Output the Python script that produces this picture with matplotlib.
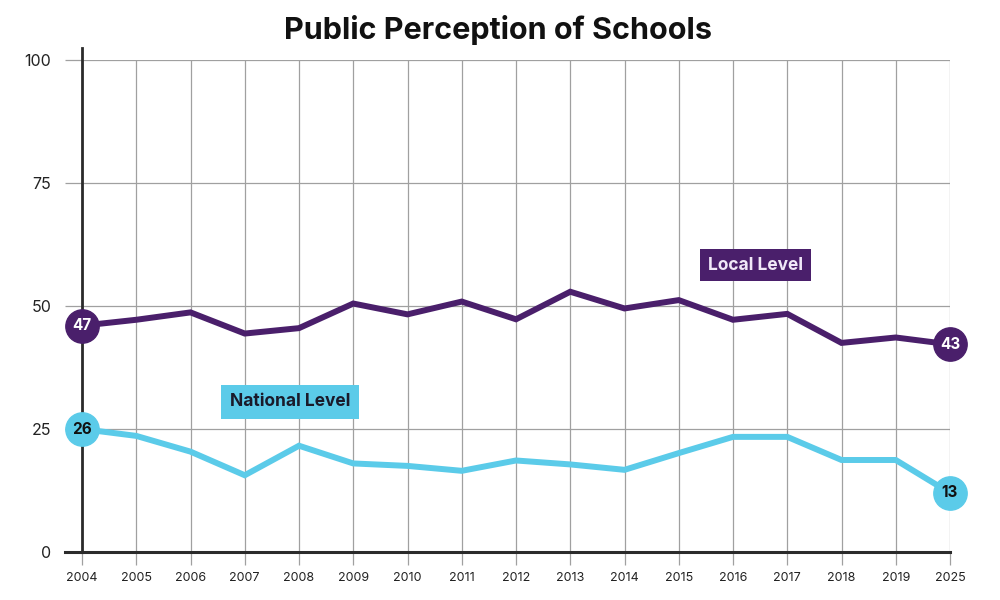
import numpy as np
import matplotlib
matplotlib.use("Agg")
import matplotlib.pyplot as plt

years = ['2004', '2005', '2006', '2007', '2008', '2009', '2010', '2011', '2012',
         '2013', '2014', '2015', '2016', '2017', '2018', '2019', '2025']
local = [46, 47.2, 48.7, 44.4, 45.5, 50.5, 48.3, 50.9, 47.3,
         52.9, 49.5, 51.2, 47.2, 48.4, 42.5, 43.6, 42.2]
national = [25, 23.6, 20.4, 15.6, 21.6, 18.0, 17.5, 16.5, 18.6,
            17.8, 16.7, 20.1, 23.4, 23.4, 18.7, 18.7, 12]
local_ends = ['47', '43']
national_ends = ['26', '13']

purple = '#4a1f6b'
cyan = '#5bcbe9'
grid_c = '#a0a0a0'
dark = '#2b2b2b'

plt.rcParams['font.family'] = ['Inter', 'DejaVu Sans']

fig = plt.figure(figsize=(10, 6), dpi=100)
ax = fig.add_axes([0.082, 0.08, 0.868, 0.82])

x = np.arange(len(years))
ax.plot(x, local, color=purple, lw=4.3, solid_joinstyle='miter', zorder=3)
ax.plot(x, national, color=cyan, lw=4.3, solid_joinstyle='miter', zorder=3)

for series, ends, col, tcol in [(local, local_ends, purple, 'white'),
                                (national, national_ends, cyan, '#111111')]:
    for i, txt in zip([0, len(years) - 1], ends):
        ax.plot(x[i], series[i], 'o', ms=24, color=col, clip_on=False, zorder=5)
        ax.text(x[i], series[i], txt, ha='center', va='center', color=tcol,
                fontsize=11, fontweight='bold', zorder=6, clip_on=False)

ax.text(12.42, 58.3, 'Local Level', ha='center', va='center', color='#f0e8f8',
        fontsize=12.5, fontweight='bold', zorder=6,
        bbox=dict(boxstyle='square,pad=0.45', fc=purple, ec='none'))
ax.text(3.83, 30.5, 'National Level', ha='center', va='center', color='#1a1a2a',
        fontsize=12.5, fontweight='bold', zorder=6,
        bbox=dict(boxstyle='square,pad=0.5', fc=cyan, ec='none'))

ax.set_xlim(0, len(years) - 1)
ax.set_ylim(0, 100)
ax.set_xticks(x)
ax.set_xticklabels(years, fontsize=9, color='#222222')
ax.set_yticks([0, 25, 50, 75, 100])
ax.set_yticklabels(['0', '25', '50', '75', '100'], fontsize=11.5, color='#222222')
ax.grid(True, color=grid_c, lw=0.9, zorder=1)
ax.tick_params(axis='x', length=9.5, width=0.9, color=grid_c, pad=5)
ax.tick_params(axis='y', length=12, width=0.9, color=grid_c, pad=10)

for s in ['top', 'right']:
    ax.spines[s].set_visible(False)
ax.spines['left'].set_color(dark)
ax.spines['left'].set_linewidth(2)
ax.spines['left'].set_bounds(0, 102.4)
ax.spines['bottom'].set_color(dark)
ax.spines['bottom'].set_linewidth(2.2)
ax.plot([-0.02, 0], [0, 0], color=dark, lw=2.2, transform=ax.get_yaxis_transform(),
        clip_on=False, zorder=4)
ax.set_axisbelow(True)

fig.suptitle('Public Perception of Schools', y=0.95, va='center', fontsize=22,
             fontweight='bold', color='#111111', x=0.498)

fig.savefig('out.png', dpi=100, facecolor='white')
